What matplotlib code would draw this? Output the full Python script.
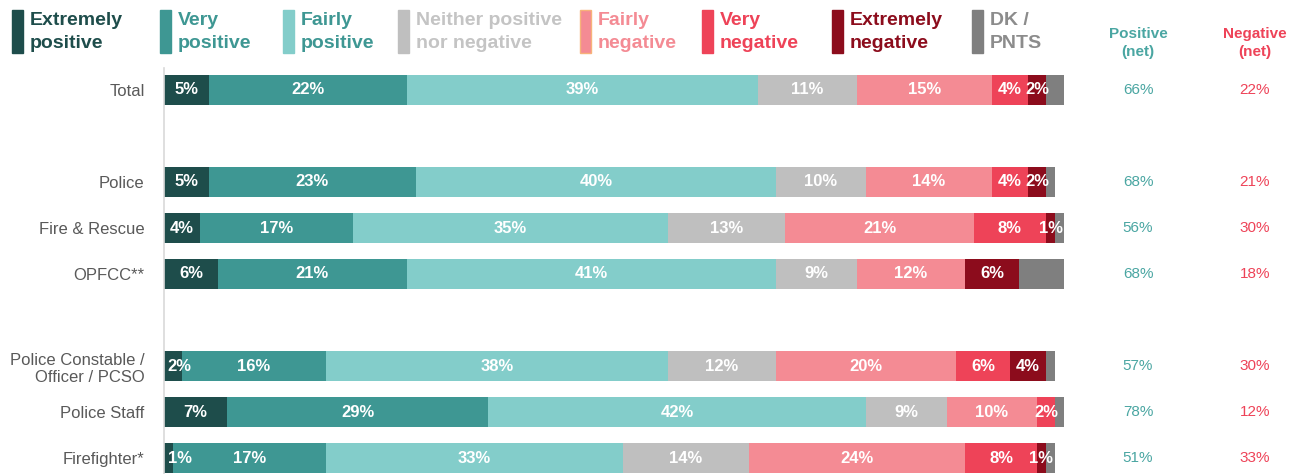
import matplotlib
matplotlib.use("Agg")
import matplotlib.pyplot as plt
from matplotlib.patches import Rectangle

plt.rcParams["font.family"] = ["Liberation Sans", "DejaVu Sans"]

# ---- data ----
categories = ["Total", "Police", "Fire & Rescue", "OPFCC**",
              "Police Constable /\nOfficer / PCSO", "Police Staff", "Firefighter*"]
extremely_positive = [5, 5, 4, 6, 2, 7, 1]
very_positive = [22, 23, 17, 21, 16, 29, 17]
fairly_positive = [39, 40, 35, 41, 38, 42, 33]
neither = [11, 10, 13, 9, 12, 9, 14]
fairly_negative = [15, 14, 21, 12, 20, 10, 24]
very_negative = [4, 4, 8, 0, 6, 2, 8]
extremely_negative = [2, 2, 1, 6, 4, 0, 1]
dk_pnts = [2, 1, 1, 5, 1, 1, 1]
positive_net = [66, 68, 56, 68, 57, 78, 51]
negative_net = [22, 21, 30, 18, 30, 12, 33]

series_labels = ["Extremely\npositive", "Very\npositive", "Fairly\npositive",
                 "Neither positive\nnor negative", "Fairly\nnegative", "Very\nnegative",
                 "Extremely\nnegative", "DK /\nPNTS"]

# ---- layout / style ----
row_pos = [0, 2, 3, 4, 6, 7, 8]
fills = ["#1e4d4b", "#3e9793", "#83cdca", "#bfbfbf",
         "#f48b94", "#ee4358", "#8c0c1c", "#7f7f7f"]
text_cols = ["#1e4d4b", "#3e9793", "#3e9793", "#c4c4c4",
             "#f48b94", "#ee4358", "#8c0c1c", "#8c8c8c"]
legend_x = [12, 160, 283, 398, 580, 702, 832, 972]   # patch left edges, px
pos_col = "#4aa6a2"
neg_col = "#ee4358"

W, H = 1298, 474
fig = plt.figure(figsize=(W / 100, H / 100), dpi=100)
ax_left, ax_w = 164, 900
ax_top, ax_bot = 68, 474
ax = fig.add_axes([ax_left / W, 1 - ax_bot / H, ax_w / W, (ax_bot - ax_top) / H])

series = [extremely_positive, very_positive, fairly_positive, neither,
          fairly_negative, very_negative, extremely_negative, dk_pnts]

row_px0, row_step = 90, 46
ax.set_ylim((ax_bot - row_px0) / row_step, (ax_top - row_px0) / row_step)
ax.set_xlim(0, 100)

left = [0.0] * len(categories)
for si, vals in enumerate(series):
    ax.barh(row_pos, vals, left=left, height=0.67, color=fills[si], linewidth=0)
    if si < 7:
        for ri, v in enumerate(vals):
            if v <= 0:
                continue
            if si == 0 and v < 3:
                x, ha = left[ri] + 0.4, "left"
            else:
                x, ha = left[ri] + v / 2, "center"
            ax.text(x, row_pos[ri], f"{v}%", ha=ha, va="center", color="white",
                    fontsize=12, fontweight="bold")
    left = [l + v for l, v in zip(left, vals)]

ax.set_yticks(row_pos)
ax.set_yticklabels(categories, fontsize=12, color="#595959")
ax.tick_params(axis="y", length=0, pad=14)
ax.set_xticks([])
for s in ["top", "right", "bottom"]:
    ax.spines[s].set_visible(False)
ax.spines["left"].set_color("#d9d9d9")
ax.spines["left"].set_linewidth(1.2)

# net columns
px_per_unit = ax_w / 100
pos_x = (1138 - ax_left) / px_per_unit
neg_x = (1255 - ax_left) / px_per_unit
for ri in range(len(categories)):
    ax.text(pos_x, row_pos[ri], f"{positive_net[ri]}%", ha="center", va="center",
            color=pos_col, fontsize=11, clip_on=False)
    ax.text(neg_x, row_pos[ri], f"{negative_net[ri]}%", ha="center", va="center",
            color=neg_col, fontsize=11, clip_on=False)
hdr_y = 1 - 43 / H
fig.text(1138 / W, hdr_y, "Positive\n(net)", ha="center", va="center",
         color=pos_col, fontsize=11, fontweight="bold", linespacing=1.35)
fig.text(1255 / W, hdr_y, "Negative\n(net)", ha="center", va="center",
         color=neg_col, fontsize=11, fontweight="bold", linespacing=1.35)

# legend row
for i, lab in enumerate(series_labels):
    x0 = legend_x[i]
    edge = "#f7b27a" if i == 4 else fills[i]
    fig.patches.append(Rectangle((x0 / W, 1 - 53 / H), 11 / W, 43 / H,
                                 transform=fig.transFigure, facecolor=fills[i],
                                 edgecolor=edge, linewidth=1))
    fig.text((x0 + 18) / W, 1 - 32 / H, lab, ha="left", va="center",
             color=text_cols[i], fontsize=14, fontweight="bold", linespacing=1.5)

fig.savefig("out.png", dpi=100)
